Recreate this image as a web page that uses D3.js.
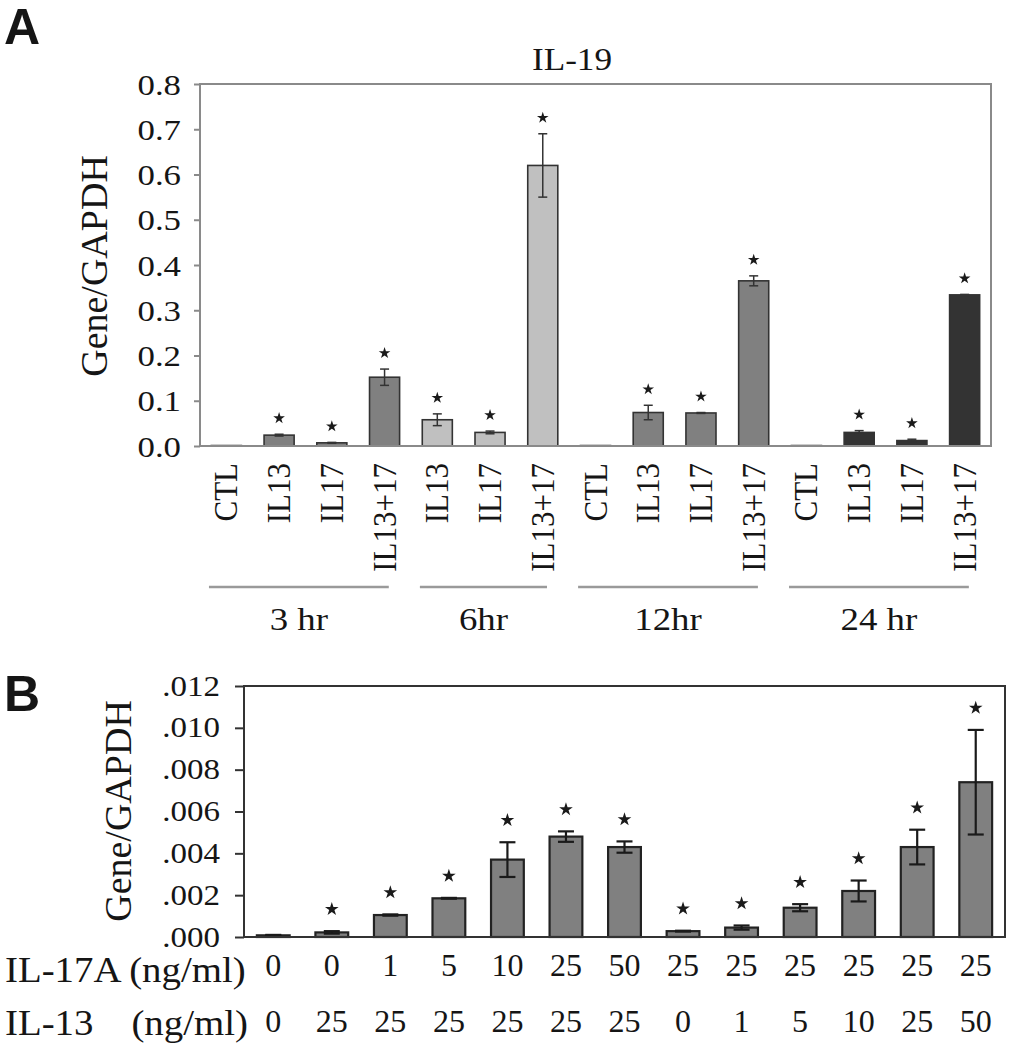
<!DOCTYPE html>
<html><head><meta charset="utf-8">
<script src="https://cdn.jsdelivr.net/npm/d3@7"></script>
<style>
body{margin:0;background:#fff}
svg{display:block}
text{font-family:"Liberation Serif","Times New Roman",serif;fill:#151515}
</style>
</head><body><svg id="c" width="1011" height="1050"></svg>
<script>
// ---------- Panel A data ----------
const catsA = ["CTL","IL13","IL17","IL13+17","IL13","IL17","IL13+17","CTL","IL13","IL17","IL13+17","CTL","IL13","IL17","IL13+17"];
const groupOfA = [0,0,0,0,1,1,1,2,2,2,2,3,3,3,3];
const groupsA = ["3 hr","6hr","12hr","24 hr"];
const valuesA = [0.001,0.024,0.007,0.152,0.058,0.030,0.620,0.001,0.074,0.073,0.365,0.001,0.030,0.012,0.334];
const errA    = [0.000,0.002,0.001,0.018,0.013,0.003,0.070,0.000,0.016,0.001,0.011,0.000,0.004,0.003,0.001];
const sigA    = [0,1,1,1,1,1,1,0,1,1,1,0,1,1,1];
const groupColorsA = ["#808080","#c0c0c0","#808080","#333333"];
const ticksA = [0,0.1,0.2,0.3,0.4,0.5,0.6,0.7,0.8];
const titleA = "IL-19";
const yLabel = "Gene/GAPDH";

// ---------- Panel B data ----------
const il17B = ["0","0","1","5","10","25","50","25","25","25","25","25","25"];
const il13B = ["0","25","25","25","25","25","25","0","1","5","10","25","50"];
const valuesB = [0.00008,0.00022,0.00105,0.00185,0.0037,0.0048,0.0043,0.00028,0.00045,0.0014,0.0022,0.0043,0.0074];
const errB    = [0.00002,0.00006,0.00003,0.00002,0.00083,0.00025,0.00027,0.00002,0.0001,0.00017,0.0005,0.00083,0.0025];
const sigB    = [0,1,1,1,1,1,1,1,1,1,1,1,1];
const ticksB = [0,0.002,0.004,0.006,0.008,0.010,0.012];
const rowLabelsB = [["IL-17A (ng/ml)"],["IL-13","(ng/ml)"]];

const svg = d3.select("#c");
const star = d3.symbol().type(d3.symbolStar);

// Panel letters
svg.append("text").attr("x",4).attr("y",44).text("A")
  .style("font-family","'Liberation Sans',Arial,sans-serif").style("font-weight","bold").style("font-size","50px");
svg.append("text").attr("x",4).attr("y",711).text("B")
  .style("font-family","'Liberation Sans',Arial,sans-serif").style("font-weight","bold").style("font-size","50px");

// ================= Panel A =================
{
  const L=200,R=991,T=84,B=446;
  const x = d3.scaleBand().domain(d3.range(catsA.length)).range([L,R]).paddingInner(0.43).paddingOuter(0.215);
  const y = d3.scaleLinear().domain([0,0.8]).range([B,T]);
  const g = svg.append("g");

  g.append("text").attr("transform",`translate(572,70) scale(1.1,1)`).attr("text-anchor","middle")
    .style("font-size","32px").text(titleA);

  const ax = g.append("g").attr("transform",`translate(${L},0)`)
    .call(d3.axisLeft(y).tickValues(ticksA).tickFormat(d3.format(".1f")).tickSize(6).tickSizeOuter(0));
  ax.select(".domain").remove();
  ax.selectAll(".tick line").attr("stroke","#8a8a8a").attr("stroke-width",2);
  ax.selectAll(".tick text").attr("x",-19/1.2).attr("dy","0.35em").attr("transform","scale(1.2,1)")
    .style("font-size","29px").attr("fill","#151515")
    .style("font-family","'Liberation Serif','Times New Roman',serif");

  g.append("text").attr("transform",`translate(107,266) rotate(-90)`).attr("text-anchor","middle")
    .style("font-size","38px").text(yLabel);

  g.selectAll("rect.bar").data(valuesA).join("rect").attr("class","bar")
    .attr("x",(d,i)=>x(i)).attr("width",x.bandwidth())
    .attr("y",d=>y(d)).attr("height",d=>B-y(d))
    .attr("fill",(d,i)=>groupColorsA[groupOfA[i]]).attr("stroke","#333").attr("stroke-width",1.6);

  const eg = g.append("g").attr("stroke","#333").attr("stroke-width",1.5);
  valuesA.forEach((v,i)=>{
    const cx = x(i)+x.bandwidth()/2, e=errA[i];
    if(e<=0) return;
    eg.append("line").attr("x1",cx).attr("x2",cx).attr("y1",y(v+e)).attr("y2",y(v-e));
    eg.append("line").attr("x1",cx-4.5).attr("x2",cx+4.5).attr("y1",y(v+e)).attr("y2",y(v+e));
    eg.append("line").attr("x1",cx-4.5).attr("x2",cx+4.5).attr("y1",y(v-e)).attr("y2",y(v-e));
  });

  valuesA.forEach((v,i)=>{
    if(!sigA[i]) return;
    const cx = x(i)+x.bandwidth()/2;
    g.append("path").attr("d",star.size(42)()).attr("fill","#1a1a1a")
      .attr("transform",`translate(${cx},${y(v+errA[i])-16})`);
  });

  g.append("rect").attr("x",L).attr("y",T).attr("width",R-L).attr("height",B-T)
    .attr("fill","none").attr("stroke","#8a8a8a").attr("stroke-width",2);

  catsA.forEach((c,i)=>{
    const cx = x(i)+x.bandwidth()/2;
    g.append("text").attr("transform",`translate(${cx+11},463) rotate(-90) scale(1,1.08)`)
      .attr("text-anchor","end").style("font-size","31px").text(c);
  });

  const step = x.step();
  groupsA.forEach((name,gi)=>{
    const idx = d3.range(catsA.length).filter(i=>groupOfA[i]===gi);
    const c0 = x(idx[0])+x.bandwidth()/2, c1 = x(idx[idx.length-1])+x.bandwidth()/2;
    const x0 = c0-0.33*step, x1 = c1+0.08*step;
    g.append("line").attr("x1",x0).attr("x2",x1).attr("y1",587).attr("y2",587)
      .attr("stroke","#9a9a9a").attr("stroke-width",2.5);
    g.append("text").attr("transform",`translate(${(x0+x1)/2},630) scale(1.15,1)`).attr("text-anchor","middle")
      .style("font-size","32px").text(name);
  });
}

// ================= Panel B =================
{
  const L=244,R=1005,T=686,B=937;
  const x = d3.scaleBand().domain(d3.range(valuesB.length)).range([L,R]).paddingInner(0.44).paddingOuter(0.22);
  const y = d3.scaleLinear().domain([0,0.012]).range([B,T]);
  const g = svg.append("g");
  const fmt = v => d3.format(".3f")(v).replace(/^0/,"");

  const ax = g.append("g").attr("transform",`translate(${L},0)`)
    .call(d3.axisLeft(y).tickValues(ticksB).tickFormat(fmt).tickSize(9).tickSizeOuter(0));
  ax.select(".domain").remove();
  ax.selectAll(".tick line").attr("stroke","#333").attr("stroke-width",2);
  ax.selectAll(".tick text").attr("x",-24/1.1).attr("dy","0.3em").attr("transform","scale(1.1,1)")
    .style("font-size","30px").attr("fill","#151515")
    .style("font-family","'Liberation Serif','Times New Roman',serif");

  g.append("text").attr("transform",`translate(131,811) rotate(-90)`).attr("text-anchor","middle")
    .style("font-size","38px").text(yLabel);

  g.selectAll("rect.bar").data(valuesB).join("rect").attr("class","bar")
    .attr("x",(d,i)=>x(i)).attr("width",x.bandwidth())
    .attr("y",d=>y(d)).attr("height",d=>B-y(d))
    .attr("fill","#808080").attr("stroke","#222").attr("stroke-width",2.2);

  const eg = g.append("g").attr("stroke","#1a1a1a").attr("stroke-width",2.2);
  valuesB.forEach((v,i)=>{
    const cx = x(i)+x.bandwidth()/2, e=errB[i];
    eg.append("line").attr("x1",cx).attr("x2",cx).attr("y1",y(v+e)).attr("y2",y(Math.max(0,v-e)));
    eg.append("line").attr("x1",cx-8).attr("x2",cx+8).attr("y1",y(v+e)).attr("y2",y(v+e));
    eg.append("line").attr("x1",cx-8).attr("x2",cx+8).attr("y1",y(Math.max(0,v-e))).attr("y2",y(Math.max(0,v-e)));
  });

  valuesB.forEach((v,i)=>{
    if(!sigB[i]) return;
    const cx = x(i)+x.bandwidth()/2;
    g.append("path").attr("d",star.size(58)()).attr("fill","#1a1a1a")
      .attr("transform",`translate(${cx},${y(v+errB[i])-22})`);
  });

  g.append("rect").attr("x",L).attr("y",T).attr("width",R-L).attr("height",B-T)
    .attr("fill","none").attr("stroke","#333").attr("stroke-width",2);

  g.append("text").attr("transform","translate(5,982) scale(1.08,1)").style("font-size","36px").text(rowLabelsB[0][0]);
  g.append("text").attr("transform","translate(5,1035) scale(1.08,1)").style("font-size","36px").text(rowLabelsB[1][0]);
  g.append("text").attr("transform","translate(248,1035) scale(1.08,1)").attr("text-anchor","end").style("font-size","36px").text(rowLabelsB[1][1]);

  il17B.forEach((t,i)=>{
    g.append("text").attr("x",x(i)+x.bandwidth()/2).attr("y",976).attr("text-anchor","middle")
      .style("font-size","32px").text(t);
  });
  il13B.forEach((t,i)=>{
    g.append("text").attr("x",x(i)+x.bandwidth()/2).attr("y",1032).attr("text-anchor","middle")
      .style("font-size","32px").text(t);
  });
}
</script>
</body></html>
